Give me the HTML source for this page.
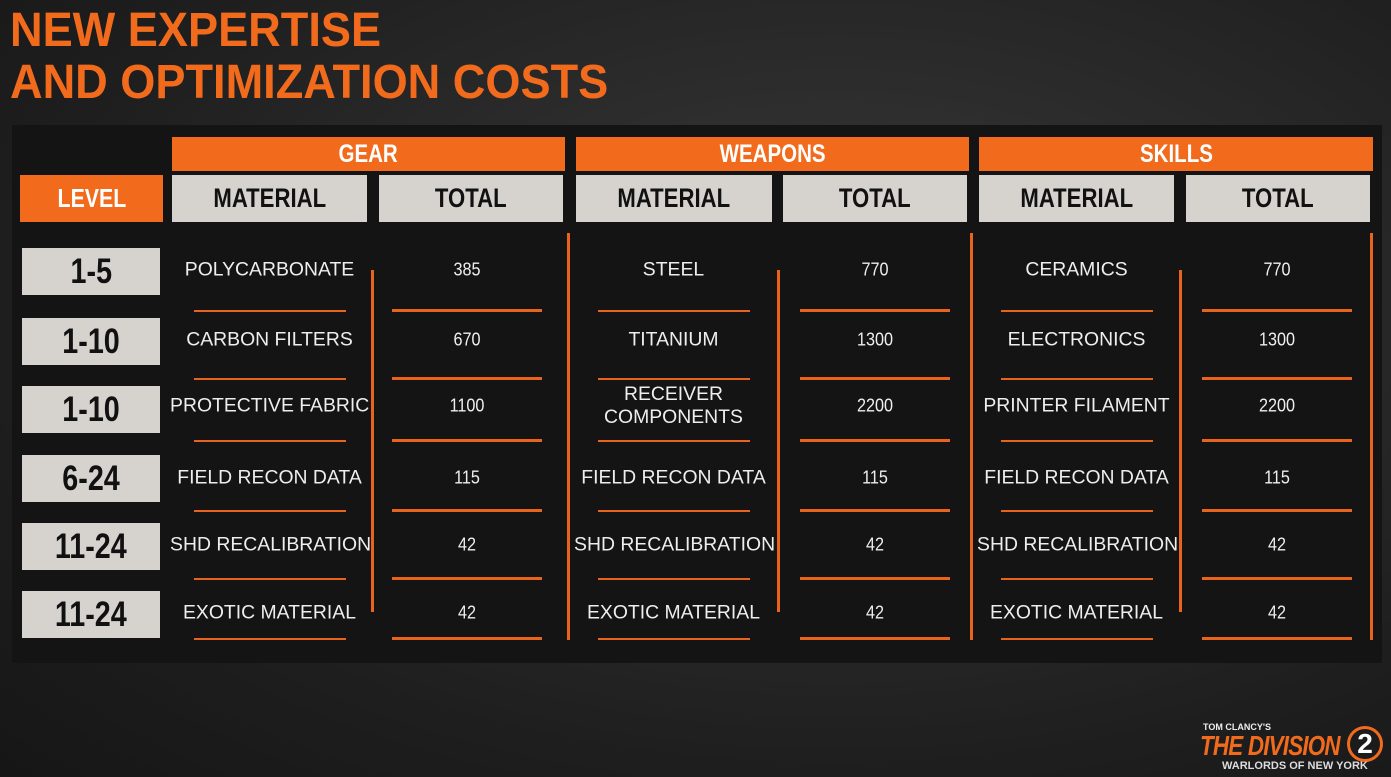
<!DOCTYPE html><html><head><style>
body{margin:0;width:1391px;height:777px;overflow:hidden;background:radial-gradient(ellipse at 60% 40%,#3a3a3a,#1e1e1e 70%,#161616);font-family:"Liberation Sans",sans-serif;position:relative}
.a{position:absolute}
.t{color:#f26b1d;font-weight:bold;font-size:48px;left:10px;line-height:50px;transform:scaleX(0.94);transform-origin:left;white-space:nowrap}
.panel{left:12px;top:125px;width:1370px;height:538px;background:#141414}
.o{background:#f26b1d;color:#fff;font-weight:bold;display:flex;align-items:center;justify-content:center}
.g{background:#d6d3cf;color:#111;font-weight:bold;display:flex;align-items:center;justify-content:center}
.o span,.g span{display:inline-block;transform:scaleX(0.82);white-space:nowrap}
.m{color:#eee;font-size:19px;text-align:center;line-height:23px;transform:translateY(-50%) scaleX(1.02);white-space:nowrap}
.n{color:#eee;font-size:18px;text-align:center;transform:translateY(-50%) scaleX(0.9)}
.hl{height:2px;background:#e8641d}
.vl{width:3px;background:#e8641d}
</style></head><body>
<div class="a t" style="top:6px">NEW EXPERTISE</div>
<div class="a t" style="top:58px">AND OPTIMIZATION COSTS</div>
<div class="a panel"></div>
<div class="a o" style="left:172px;top:137px;width:393px;height:34px;font-size:25px"><span>GEAR</span></div>
<div class="a o" style="left:576px;top:137px;width:393px;height:34px;font-size:25px"><span>WEAPONS</span></div>
<div class="a o" style="left:979px;top:137px;width:394px;height:34px;font-size:25px"><span>SKILLS</span></div>
<div class="a o" style="left:20px;top:175px;width:143px;height:47px;font-size:26px"><span>LEVEL</span></div>
<div class="a g" style="left:172px;top:175px;width:195px;height:47px;font-size:27px"><span>MATERIAL</span></div>
<div class="a g" style="left:379px;top:175px;width:184px;height:47px;font-size:27px"><span>TOTAL</span></div>
<div class="a g" style="left:576px;top:175px;width:196px;height:47px;font-size:27px"><span>MATERIAL</span></div>
<div class="a g" style="left:783px;top:175px;width:184px;height:47px;font-size:27px"><span>TOTAL</span></div>
<div class="a g" style="left:979px;top:175px;width:195px;height:47px;font-size:27px"><span>MATERIAL</span></div>
<div class="a g" style="left:1186px;top:175px;width:184px;height:47px;font-size:27px"><span>TOTAL</span></div>

<div class="a vl" style="left:371px;top:270px;height:342px"></div>
<div class="a vl" style="left:567px;top:233px;height:407px"></div>
<div class="a vl" style="left:777px;top:270px;height:342px"></div>
<div class="a vl" style="left:970px;top:233px;height:407px"></div>
<div class="a vl" style="left:1179px;top:270px;height:342px"></div>
<div class="a vl" style="left:1370px;top:233px;height:407px"></div>

<div id="rows"></div>
<div class="a" style="left:1203px;top:722px;color:#eee;font-size:9px;font-weight:bold">TOM CLANCY'S</div>
<div class="a" style="left:1200px;top:730px;color:#f26b1d;font-size:28px;font-weight:bold;font-style:italic;letter-spacing:-1px;transform:scaleX(0.8);transform-origin:left">THE DIVISION</div>
<div class="a" style="left:1347px;top:726px;width:30px;height:30px;border:3px solid #f26b1d;border-radius:50%;color:#fff;font-size:28px;font-weight:bold;text-align:center;line-height:30px">2</div>
<div class="a" style="left:1222px;top:760px;color:#ddd;font-size:11px;font-weight:bold">WARLORDS OF NEW YORK</div>
<script>
const lv=["1-5","1-10","1-10","6-24","11-24","11-24"];
const cy=[270,340,406,478,545,613];
const ly=[310,378,440,510,578,638];
const bt=[248,318,386,455,523,591];
const cols=[
[["POLYCARBONATE","CARBON FILTERS","PROTECTIVE FABRIC","FIELD RECON DATA","SHD RECALIBRATION","EXOTIC MATERIAL"],["385","670","1100","115","42","42"],172,392],
[["STEEL","TITANIUM","RECEIVER<br>COMPONENTS","FIELD RECON DATA","SHD RECALIBRATION","EXOTIC MATERIAL"],["770","1300","2200","115","42","42"],576,800],
[["CERAMICS","ELECTRONICS","PRINTER FILAMENT","FIELD RECON DATA","SHD RECALIBRATION","EXOTIC MATERIAL"],["770","1300","2200","115","42","42"],979,1202]];
let h="";
for(let i=0;i<6;i++){
h+=`<div class="a g" style="left:22px;top:${bt[i]}px;width:138px;height:47px;font-size:35px"><span>${lv[i]}</span></div>`;
for(const c of cols){
h+=`<div class="a m" style="left:${c[2]}px;top:${cy[i]}px;width:195px">${c[0][i]}</div>`;
h+=`<div class="a n" style="left:${c[3]}px;top:${cy[i]}px;width:150px">${c[1][i]}</div>`;
h+=`<div class="a hl" style="left:${c[2]+22}px;top:${ly[i]}px;width:152px"></div>`;
h+=`<div class="a hl" style="left:${c[3]}px;top:${ly[i]-1}px;width:150px;height:3px"></div>`;
}}
document.getElementById("rows").innerHTML=h;
</script>
</body></html>
